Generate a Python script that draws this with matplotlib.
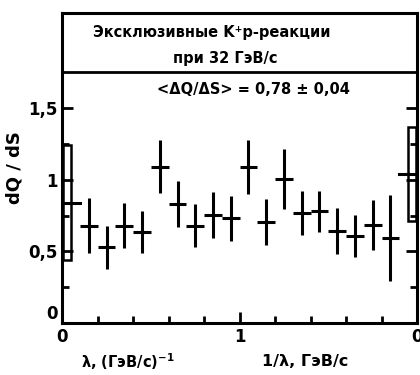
import matplotlib.pyplot as plt
from matplotlib.patches import Rectangle
from matplotlib.ticker import MultipleLocator, FixedLocator

# bin centres: 0..1 is lambda, 1..2 is 1/lambda running back to 0
x_pos = [0.05, 0.15, 0.25, 0.35, 0.45, 0.55, 0.65, 0.75, 0.85, 0.95,
         1.05, 1.15, 1.25, 1.35, 1.45, 1.55, 1.65, 1.75, 1.85, 1.95]
dq_ds = [0.84, 0.68, 0.53, 0.68, 0.635, 1.09, 0.83, 0.68, 0.755, 0.73,
         1.09, 0.705, 1.005, 0.77, 0.78, 0.64, 0.607, 0.684, 0.593, 1.04]
dq_err = [0.40, 0.19, 0.15, 0.155, 0.15, 0.185, 0.16, 0.15, 0.16, 0.16,
          0.19, 0.16, 0.21, 0.155, 0.145, 0.16, 0.147, 0.175, 0.30, 0.33]

x_ticks = [0, 1, 2]
x_ticklabels = ['0', '1', '0']
y_ticks = [0, 0.5, 1, 1.5]
y_ticklabels = ['0', '0,5', '1', '1,5']
y_minor = [0.25, 0.75, 1.25]

title1 = 'Эксклюзивные K⁺p-реакции'
title2 = 'при 32 ГэВ/с'
mean_txt = '<ΔQ/ΔS> = 0,78 ± 0,04'

plt.rcParams['font.family'] = ['DejaVu Sans']
plt.rcParams['font.weight'] = 'bold'

fig = plt.figure(figsize=(4.2, 3.75), dpi=100)
ax = fig.add_axes([0.148, 0.139, 0.845, 0.826])

# inner points: ordinary crosses
ax.errorbar(x_pos[1:-1], dq_ds[1:-1], yerr=dq_err[1:-1], xerr=0.05,
            fmt='none', ecolor='black', elinewidth=2.2, capsize=0)

# edge bins: error drawn as a narrow box against the frame
for i, side in ((0, -1), (-1, 1)):
    xc, yc, e = x_pos[i], dq_ds[i], dq_err[i]
    ax.plot([xc - 0.05, xc + 0.05], [yc, yc], color='black', lw=2.2)
    x0 = xc - 0.045 if side < 0 else xc
    ax.add_patch(Rectangle((x0, yc - e), 0.045, 2 * e, fill=False,
                           edgecolor='black', lw=1.8))

# header box
ax.axhline(1.75, color='black', lw=2)
ax.text(0.845, 2.03, title1, ha='center', va='center', fontsize=10.5, fontweight='bold')
ax.text(0.92, 1.85, title2, ha='center', va='center', fontsize=10.5, fontweight='bold')
ax.text(1.08, 1.63, mean_txt, ha='center', va='center', fontsize=10.5, fontweight='bold')

ax.set_xlim(0, 2)
ax.set_ylim(0, 2.165)
ax.set_xticks(x_ticks)
ax.set_xticklabels(x_ticklabels)
ax.set_yticks(y_ticks)
ax.set_yticklabels(y_ticklabels)
ax.xaxis.set_minor_locator(MultipleLocator(0.2))
ax.yaxis.set_minor_locator(FixedLocator(y_minor))
ax.tick_params(which='both', direction='in', right=True, width=2, labelsize=12)
ax.tick_params(which='major', length=8)
ax.tick_params(which='minor', length=5)
ax.tick_params(axis='x', pad=4)
ax.tick_params(axis='y', pad=3)
for lab in ax.get_xticklabels() + ax.get_yticklabels():
    lab.set_fontweight('bold')
ax.get_yticklabels()[0].set_verticalalignment('bottom')
for s in ax.spines.values():
    s.set_linewidth(2.2)

ax.set_ylabel('dQ / dS', fontsize=13, fontweight='bold', labelpad=4)
ax.text(0.37, -0.27, 'λ, (ГэВ/с)$^{-1}$', ha='center', va='center', fontsize=10.5, fontweight='bold')
ax.text(1.37, -0.27, '1/λ, ГэВ/с', ha='center', va='center', fontsize=11.5, fontweight='bold')

fig.savefig('out.png', dpi=100)
